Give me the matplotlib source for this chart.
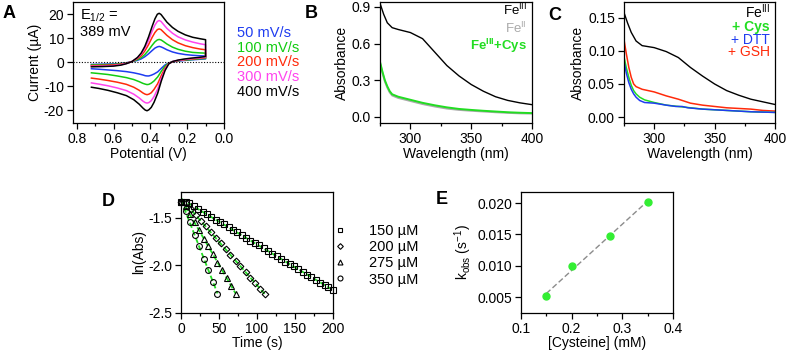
import numpy as np
import matplotlib
matplotlib.use('Agg')
import matplotlib.pyplot as plt
from matplotlib.lines import Line2D
from matplotlib.ticker import MultipleLocator, FixedLocator

plt.rcParams['font.family'] = ['Liberation Sans', 'DejaVu Sans']
plt.rcParams['mathtext.fontset'] = 'custom'
plt.rcParams['mathtext.rm'] = 'Liberation Sans'
plt.rcParams['mathtext.it'] = 'Liberation Sans:italic'
plt.rcParams['mathtext.bf'] = 'Liberation Sans:bold'
plt.rcParams['axes.linewidth'] = 0.9
plt.rcParams['axes.unicode_minus'] = False

# ---------------- Panel A: cyclic voltammograms ----------------
E_up = [0.72, 0.66, 0.60, 0.56, 0.53, 0.50, 0.47, 0.45, 0.43, 0.41, 0.39, 0.375,
        0.362, 0.352, 0.342, 0.33, 0.31, 0.28, 0.25, 0.21, 0.17, 0.13, 0.10]
E_dn = [0.10, 0.14, 0.18, 0.22, 0.25, 0.28, 0.30, 0.32, 0.34, 0.36, 0.38, 0.395,
        0.408, 0.418, 0.428, 0.44, 0.46, 0.49, 0.53, 0.58, 0.63, 0.68, 0.72]
cv_rates = ['50 mV/s', '100 mV/s', '200 mV/s', '300 mV/s', '400 mV/s']
cv_colors = ['#1f3cf0', '#12cc12', '#ff2a0a', '#ff44ee', '#000000']
i_up = {
    '50 mV/s':  [-1.0, -0.9, -0.8, -0.6, -0.3, 0.1, 0.7, 1.3, 2.2, 3.4, 4.8, 5.8,
                 6.3, 6.5, 6.3, 5.9, 5.1, 4.2, 3.6, 3.1, 2.8, 2.6, 2.5],
    '100 mV/s': [-1.2, -1.1, -1.0, -0.7, -0.4, 0.1, 1.0, 1.8, 3.1, 4.9, 7.0, 8.4,
                 9.2, 9.4, 9.2, 8.6, 7.5, 6.2, 5.3, 4.5, 4.0, 3.8, 3.7],
    '200 mV/s': [-1.5, -1.4, -1.2, -0.9, -0.5, 0.2, 1.4, 2.6, 4.6, 7.2, 10.3, 12.3,
                 13.5, 13.8, 13.5, 12.6, 11.1, 9.3, 8.0, 6.8, 6.0, 5.4, 5.1],
    '300 mV/s': [-1.8, -1.7, -1.5, -1.1, -0.6, 0.2, 1.7, 3.3, 5.7, 9.0, 12.9, 15.4,
                 16.9, 17.3, 16.9, 15.8, 14.0, 12.0, 10.5, 9.2, 8.3, 7.6, 7.2],
    '400 mV/s': [-2.0, -1.9, -1.7, -1.3, -0.7, 0.2, 1.9, 3.7, 6.5, 10.4, 14.9, 18.0,
                 19.9, 20.3, 19.8, 18.6, 16.6, 14.4, 12.8, 11.3, 10.3, 9.7, 9.3],
}
i_dn = {
    '50 mV/s':  [1.3, 1.1, 0.9, 0.6, 0.4, 0.0, -0.4, -1.2, -2.6, -4.1, -5.0, -5.5,
                 -5.8, -5.8, -5.7, -5.4, -5.0, -4.5, -4.0, -3.6, -3.3, -3.0, -2.8],
    '100 mV/s': [1.5, 1.3, 1.0, 0.8, 0.5, 0.1, -0.4, -1.7, -3.8, -6.2, -7.9, -8.8,
                 -9.3, -9.4, -9.2, -8.9, -8.2, -7.3, -6.5, -5.8, -5.2, -4.8, -4.5],
    '200 mV/s': [1.8, 1.5, 1.2, 0.9, 0.6, 0.1, -0.6, -2.5, -5.5, -9.0, -11.4, -12.8,
                 -13.4, -13.6, -13.4, -12.9, -11.8, -10.5, -9.3, -8.4, -7.7, -7.1, -6.7],
    '300 mV/s': [2.0, 1.7, 1.4, 1.0, 0.7, 0.2, -0.7, -3.1, -6.8, -11.2, -14.4, -16.1,
                 -16.9, -17.1, -16.9, -16.3, -15.0, -13.4, -11.9, -10.8, -9.9, -9.2, -8.7],
    '400 mV/s': [2.3, 1.9, 1.6, 1.2, 0.8, 0.2, -0.8, -3.5, -7.8, -13.0, -16.8, -18.9,
                 -19.9, -20.3, -20.0, -19.2, -17.6, -15.7, -14.0, -12.8, -11.8, -11.0, -10.5],
}

# ---------------- Panel B: UV-vis ----------------
wlB_fe3 = [275, 278, 281, 285, 290, 300, 310, 320, 330, 340, 350, 360, 370, 380, 390, 400]
absB_fe3 = [0.93, 0.84, 0.77, 0.73, 0.715, 0.69, 0.64, 0.53, 0.42, 0.335, 0.265, 0.21,
            0.165, 0.135, 0.115, 0.10]
wlB = [275, 277, 279, 281, 283, 285, 290, 300, 310, 320, 330, 340, 350, 360, 370, 380, 390, 400]
absB_fe2 = [0.44, 0.36, 0.29, 0.24, 0.20, 0.175, 0.155, 0.13, 0.105, 0.085, 0.068, 0.057,
            0.050, 0.044, 0.038, 0.033, 0.029, 0.027]
absB_cys = [0.45, 0.37, 0.30, 0.25, 0.21, 0.185, 0.165, 0.14, 0.115, 0.095, 0.078, 0.065,
            0.057, 0.050, 0.044, 0.038, 0.034, 0.031]

# ---------------- Panel C: UV-vis with thiols ----------------
wlC_fe3 = [275, 278, 281, 285, 290, 300, 310, 320, 330, 340, 350, 360, 370, 380, 390, 400]
absC_fe3 = [0.158, 0.142, 0.128, 0.115, 0.108, 0.105, 0.099, 0.090, 0.075, 0.062, 0.050,
            0.040, 0.033, 0.027, 0.023, 0.019]
wlC_gsh = [275, 277, 279, 281, 283, 285, 290, 300, 310, 320, 330, 340, 350, 360, 370, 380, 390, 400]
absC_gsh = [0.117, 0.095, 0.075, 0.060, 0.050, 0.046, 0.042, 0.038, 0.032, 0.027, 0.021,
            0.018, 0.016, 0.014, 0.013, 0.012, 0.010, 0.009]
wlC_cys = [275, 277, 279, 281, 283, 285, 288, 292, 296, 300, 310, 320, 330, 340, 350, 360, 370, 380, 390, 400]
absC_cys = [0.091, 0.074, 0.060, 0.048, 0.040, 0.035, 0.030, 0.026, 0.024, 0.022, 0.018,
            0.016, 0.014, 0.012, 0.011, 0.010, 0.009, 0.008, 0.0075, 0.007]
wlC_dtt = [275, 277, 279, 281, 283, 285, 288, 292, 300, 310, 318, 323, 328, 340, 350, 360, 370, 380, 390, 400]
absC_dtt = [0.084, 0.066, 0.052, 0.042, 0.035, 0.030, 0.025, 0.022, 0.021, 0.018, 0.016,
            0.016, 0.014, 0.012, 0.011, 0.010, 0.009, 0.008, 0.0075, 0.007]

# ---------------- Panel D: kinetics ----------------
t150 = [0, 6, 11, 17, 23, 29, 34, 40, 46, 51, 57, 63, 69, 74, 80, 86, 91, 97, 103, 109,
        114, 120, 126, 131, 137, 143, 149, 154, 160, 166, 171, 177, 183, 189, 194, 200]
y150 = [-1.33, -1.33, -1.35, -1.38, -1.41, -1.44, -1.46, -1.49, -1.52, -1.545, -1.57,
        -1.60, -1.63, -1.655, -1.68, -1.71, -1.74, -1.77, -1.79, -1.82, -1.85, -1.88,
        -1.90, -1.93, -1.96, -1.99, -2.01, -2.04, -2.07, -2.10, -2.12, -2.15, -2.18,
        -2.21, -2.23, -2.26]
t200 = [0, 7, 13, 20, 26, 33, 39, 46, 52, 59, 65, 72, 78, 85, 91, 98, 104, 110]
y200 = [-1.33, -1.35, -1.41, -1.47, -1.53, -1.59, -1.65, -1.71, -1.77, -1.83, -1.89,
        -1.95, -2.01, -2.07, -2.13, -2.19, -2.25, -2.30]
t275 = [0, 6, 12, 18, 24, 30, 36, 42, 48, 54, 60, 66, 72]
y275 = [-1.33, -1.38, -1.46, -1.55, -1.63, -1.72, -1.80, -1.88, -1.97, -2.05, -2.13, -2.22, -2.30]
t350 = [0, 6, 12, 18, 24, 30, 36, 42, 48]
y350 = [-1.33, -1.43, -1.55, -1.68, -1.80, -1.93, -2.05, -2.17, -2.30]
d_labels = ['150 µM', '200 µM', '275 µM', '350 µM']
d_markers = ['s', 'D', '^', 'o']

# ---------------- Panel E: kobs vs [Cys] ----------------
cys = [0.15, 0.20, 0.275, 0.35]
kobs = [0.0051, 0.0099, 0.0147, 0.0202]

GREEN = '#22dd22'
W, H = 787, 354
fig = plt.figure(figsize=(W / 100, H / 100), dpi=100)


def box(l, t, r, b):
    return fig.add_axes([l / W, 1 - b / H, (r - l) / W, (b - t) / H])


def ftext(x, y, s, **kw):
    return fig.text(x / W, 1 - y / H, s, **kw)


def style(ax):
    ax.tick_params(which='both', direction='out', width=0.9, labelsize=10, pad=2.5,
                   top=False, right=False)
    ax.tick_params(which='major', length=4)
    ax.tick_params(which='minor', length=2.5)


FS = 10

# ---- A ----
axA = box(73, 2, 224, 123)
for lab, col in zip(cv_rates, cv_colors):
    x = E_up + E_dn
    y = i_up[lab] + i_dn[lab]
    axA.plot(x, y, color=col, lw=1.1)
axA.axhline(0, color='k', ls=(0, (1, 1.5)), lw=0.8)
axA.set_xlim(0.82, 0.0)
axA.set_ylim(-25.4, 25)
axA.xaxis.set_major_locator(FixedLocator([0.8, 0.6, 0.4, 0.2, 0.0]))
axA.xaxis.set_minor_locator(FixedLocator([0.7, 0.5, 0.3, 0.1]))
axA.set_yticks([-20, -10, 0, 10, 20])
axA.set_xticklabels(['0.8', '0.6', '0.4', '0.2', '0.0'])
style(axA)
axA.set_xlabel('Potential (V)', fontsize=FS, labelpad=1)
axA.set_ylabel('Current (µA)', fontsize=FS, labelpad=1)
ftext(80, 16, r'E$_{1/2}$ =', fontsize=10.5, va='center', ha='left')
ftext(80, 32, '389 mV', fontsize=10.5, va='center', ha='left')
for k, (lab, col) in enumerate(zip(cv_rates, cv_colors)):
    ftext(237, 33 + 14.7 * k, lab, color=col, fontsize=10.5, va='center', ha='left')

# ---- B ----
axB = box(380, 2, 532, 123)
axB.plot(wlB_fe3, absB_fe3, color='k', lw=1.0)
axB.plot(wlB, absB_fe2, color='#aaaaaa', lw=1.4)
axB.plot(wlB, absB_cys, color=GREEN, lw=1.4)
axB.set_xlim(275, 400)
axB.set_ylim(-0.05, 0.94)
axB.set_xticks([300, 350, 400])
axB.xaxis.set_minor_locator(FixedLocator([275, 325, 375]))
axB.set_yticks([0.0, 0.3, 0.6, 0.9])
axB.set_yticklabels(['0.0', '0.3', '0.6', '0.9'])
style(axB)
axB.set_xlabel('Wavelength (nm)', fontsize=FS, labelpad=1)
axB.set_ylabel('Absorbance', fontsize=FS, labelpad=2)
ftext(527, 10.5, r'Fe$^{\rm III}$', color='k', fontsize=9.5, ha='right', va='center')
ftext(527, 28, r'Fe$^{\rm II}$', color='#aaaaaa', fontsize=9.5, ha='right', va='center')
ftext(527, 46, r'Fe$^{\mathbf{III}}$+Cys', color=GREEN, fontsize=9.5, ha='right',
      va='center', fontweight='bold')

# ---- C ----
axC = box(624, 2, 775, 123)
axC.plot(wlC_fe3, absC_fe3, color='k', lw=1.0)
axC.plot(wlC_gsh, absC_gsh, color='#ff2a0a', lw=1.1)
axC.plot(wlC_cys, absC_cys, color=GREEN, lw=1.1)
axC.plot(wlC_dtt, absC_dtt, color='#1f3cf0', lw=1.1)
axC.set_xlim(275, 400)
axC.set_ylim(-0.009, 0.174)
axC.set_xticks([300, 350, 400])
axC.xaxis.set_minor_locator(FixedLocator([275, 325, 375]))
axC.set_yticks([0.0, 0.05, 0.10, 0.15])
axC.set_yticklabels(['0.00', '0.05', '0.10', '0.15'])
style(axC)
axC.set_xlabel('Wavelength (nm)', fontsize=FS, labelpad=1)
axC.set_ylabel('Absorbance', fontsize=FS, labelpad=2)
ftext(770, 12, r'Fe$^{\rm III}$', color='k', fontsize=10, ha='right', va='center')
ftext(770, 26.5, '+ Cys', color=GREEN, fontsize=10, ha='right', va='center', fontweight='bold')
ftext(770, 39.5, '+ DTT', color='#1f3cf0', fontsize=10, ha='right', va='center')
ftext(770, 52.5, '+ GSH', color='#ff2a0a', fontsize=10, ha='right', va='center')

# ---- D ----
axD = box(181, 192, 333, 313)
series = [(t150, y150), (t200, y200), (t275, y275), (t350, y350)]
for (t, y) in series:
    p = np.polyfit(t, y, 1)
    tt = np.array([0, t[-1]])
    axD.plot(tt, np.polyval(p, tt), color=GREEN, lw=1.3, ls=(0, (3, 1.5)), zorder=2)
handles = []
for (t, y), m, lab in zip(series, d_markers, d_labels):
    ms = 4.2 if m != 'D' else 3.4
    axD.plot(t, y, ls='none', marker=m, ms=ms, mfc='none', mec='k', mew=0.8, zorder=3,
             clip_on=False)
    handles.append(Line2D([], [], ls='none', marker=m, ms=ms * 0.85, mfc='none',
                          mec='k', mew=0.8))
axD.set_xlim(0, 200)
axD.set_ylim(-2.5, -1.23)
axD.set_xticks([0, 50, 100, 150, 200])
axD.xaxis.set_minor_locator(MultipleLocator(25))
axD.set_yticks([-2.5, -2.0, -1.5])
axD.set_yticklabels(['-2.5', '-2.0', '-1.5'])
style(axD)
axD.set_xlabel('Time (s)', fontsize=FS, labelpad=0)
axD.set_ylabel('ln(Abs)', fontsize=FS, labelpad=1)
axD.legend(handles, d_labels, loc='upper left', bbox_to_anchor=(334 / W, 1 - 224 / H),
           bbox_transform=fig.transFigure, frameon=False, fontsize=10.5, borderpad=0,
           borderaxespad=0, handlelength=0.8, handletextpad=1.6, labelspacing=0.15)

# ---- E ----
axE = box(521, 192, 673, 313)
pe = np.polyfit(cys, kobs, 1)
xx = np.array([cys[0], cys[-1]])
axE.plot(xx, np.polyval(pe, xx), color='#8c8c8c', lw=1.0, ls=(0, (4, 2)), zorder=2)
axE.plot(cys, kobs, ls='none', marker='o', ms=5, color='#33ee33', zorder=3)
axE.set_xlim(0.1, 0.4)
axE.set_ylim(0.00245, 0.02176)
axE.set_xticks([0.1, 0.2, 0.3, 0.4])
axE.xaxis.set_minor_locator(FixedLocator([0.15, 0.25, 0.35]))
axE.set_yticks([0.005, 0.010, 0.015, 0.020])
axE.set_yticklabels(['0.005', '0.010', '0.015', '0.020'])
style(axE)
axE.set_xlabel('[Cysteine] (mM)', fontsize=FS, labelpad=0)
axE.set_ylabel(r'k$_{\rm obs}$ (s$^{-1}$)', fontsize=FS, labelpad=2)

# panel letters
for L, x, y in [('A', 9, 14), ('B', 311, 14), ('C', 555, 16), ('D', 108, 201), ('E', 442, 200)]:
    ftext(x, y, L, fontsize=13, fontweight='bold', ha='center', va='center')

fig.savefig('out.png', dpi=100)
